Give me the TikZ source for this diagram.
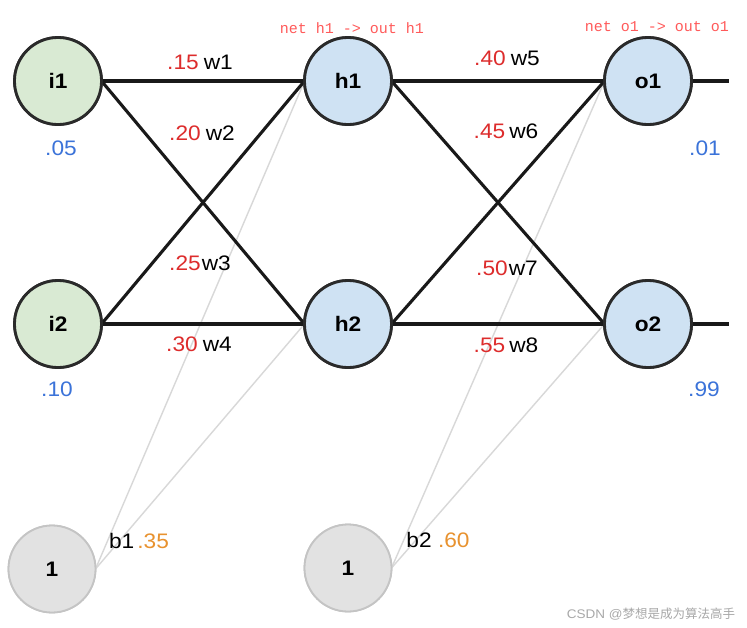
\documentclass[tikz,border=0pt]{standalone}
\usepackage{fontspec}
\setmainfont{Liberation Sans}[FakeStretch=1.08]
\newfontfamily\monofnt{Liberation Mono}
\newfontfamily\cjkfnt{Noto Sans CJK SC}
\definecolor{greenfill}{HTML}{D9EAD3}
\definecolor{bluefill}{HTML}{CFE2F3}
\definecolor{grayfill}{HTML}{E2E2E2}
\definecolor{grayedge}{HTML}{C4C4C4}
\definecolor{edgedark}{HTML}{2A2A2A}
\definecolor{wred}{HTML}{DD2C2C}
\definecolor{wblue}{HTML}{3B73D9}
\definecolor{worange}{HTML}{E8922F}
\definecolor{notered}{HTML}{FF5A5A}
\definecolor{biasline}{HTML}{D8D8D8}
\definecolor{wmark}{HTML}{A8A8A8}
\begin{document}
\begin{tikzpicture}[x=1pt,y=-1pt,
  neuron/.style={circle,draw=edgedark,line width=2.8pt,minimum size=87pt,inner sep=0pt,outer sep=0pt,font=\fontsize{21}{24}\selectfont\bfseries},
  inneuron/.style={neuron,fill=greenfill},
  hidneuron/.style={neuron,fill=bluefill},
  biasneuron/.style={neuron,fill=grayfill,draw=grayedge,line width=1.8pt},
  wire/.style={draw=black!90,line width=3.1pt},
  biaswire/.style={draw=biasline,line width=1.4pt},
  wlabel/.style={font=\fontsize{21}{24}\selectfont,inner sep=0pt},
  vlabel/.style={font=\fontsize{21}{24}\selectfont,inner sep=0pt},
  note/.style={font=\monofnt\fontsize{15}{18}\selectfont,text=notered,inner sep=0pt}]
\useasboundingbox (0,0) rectangle (747,627);
\fill[white] (0,0) rectangle (747,627);
% neurons
\node[inneuron] (i1) at (58,81) {i1};
\node[inneuron] (i2) at (58,324) {i2};
\node[hidneuron] (h1) at (348,81) {h1};
\node[hidneuron] (h2) at (348,324) {h2};
\node[hidneuron] (o1) at (648,81) {o1};
\node[hidneuron] (o2) at (648,324) {o2};
\node[biasneuron] (b1) at (52,569) {1};
\node[biasneuron] (b2) at (348,568) {1};
\coordinate (out1) at (729,81);
\coordinate (out2) at (729,324);
% bias wires
\draw[biaswire] (b1.east) -- (h1.west);
\draw[biaswire] (b1.east) -- (h2.west);
\draw[biaswire] (b2.east) -- (o1.west);
\draw[biaswire] (b2.east) -- (o2.west);
% weight wires
\draw[wire] (i1.east) -- (h1.west);
\draw[wire] (i1.east) -- (h2.west);
\draw[wire] (i2.east) -- (h1.west);
\draw[wire] (i2.east) -- (h2.west);
\draw[wire] (h1.east) -- (o1.west);
\draw[wire] (h1.east) -- (o2.west);
\draw[wire] (h2.east) -- (o1.west);
\draw[wire] (h2.east) -- (o2.west);
\draw[wire] (o1.east) -- (out1);
\draw[wire] (o2.east) -- (out2);
% redraw neurons on top
\node[inneuron] at (i1) {i1};
\node[inneuron] at (i2) {i2};
\node[hidneuron] at (h1) {h1};
\node[hidneuron] at (h2) {h2};
\node[hidneuron] at (o1) {o1};
\node[hidneuron] at (o2) {o2};
\node[biasneuron] at (b1) {1};
\node[biasneuron] at (b2) {1};
% weight labels
\node[wlabel] (w1) at (200,62) {\textcolor{wred}{.15}\hspace{5pt}w1};
\node[wlabel] (w2) at (202,133) {\textcolor{wred}{.20}\hspace{5pt}w2};
\node[wlabel] (w3) at (200,263) {\textcolor{wred}{.25}\hspace{1pt}w3};
\node[wlabel] (w4) at (199,344) {\textcolor{wred}{.30}\hspace{5pt}w4};
\node[wlabel] (w5) at (507,58) {\textcolor{wred}{.40}\hspace{5pt}w5};
\node[wlabel] (w6) at (506,131) {\textcolor{wred}{.45}\hspace{4pt}w6};
\node[wlabel] (w7) at (507,268) {\textcolor{wred}{.50}\hspace{1pt}w7};
\node[wlabel] (w8) at (506,345) {\textcolor{wred}{.55}\hspace{4pt}w8};
% values
\node[vlabel,text=wblue] (v1) at (61,148) {.05};
\node[vlabel,text=wblue] (v2) at (57,389) {.10};
\node[vlabel,text=wblue] (v3) at (705,148) {.01};
\node[vlabel,text=wblue] (v4) at (704,389) {.99};
\node[vlabel] (bl1) at (139,541) {b1\hspace{3pt}\textcolor{worange}{.35}};
\node[vlabel] (bl2) at (438,540) {b2 \textcolor{worange}{.60}};
% notes
\node[note] (n1) at (352,28) {net h1 -> out h1};
\node[note] (n2) at (657,27) {net o1 -> out o1};
% watermark
\node[inner sep=0pt,text=wmark,font=\fontsize{12.5}{14}\selectfont] (wm) at (651,614) {CSDN @{\cjkfnt 梦想是成为算法高手}};
\end{tikzpicture}
\end{document}
